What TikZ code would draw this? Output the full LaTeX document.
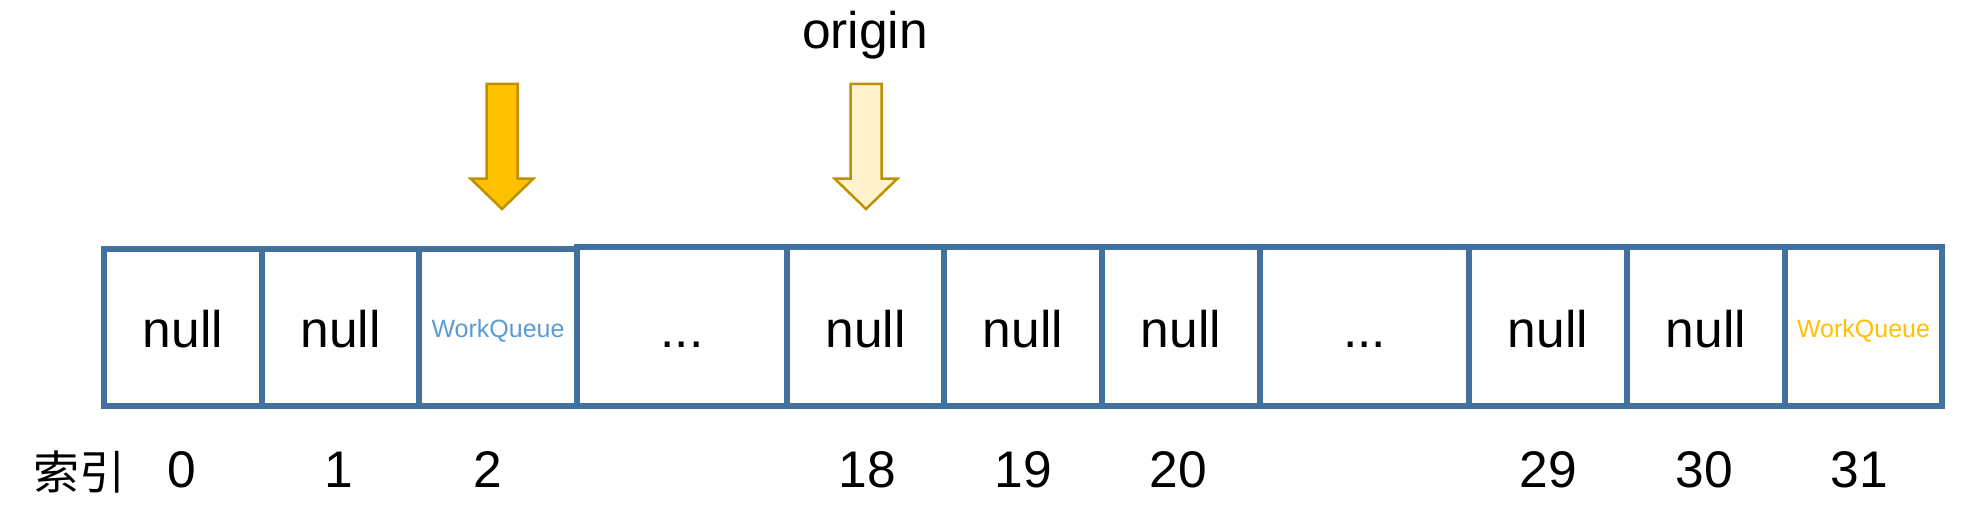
\documentclass[tikz,border=0pt]{standalone}
\usepackage{fontspec}
\setmainfont{Liberation Sans}
\newfontfamily\cjk{Noto Sans CJK SC}
\definecolor{cellblue}{HTML}{41719C}
\definecolor{wqblue}{HTML}{5B9BD5}
\definecolor{wqyellow}{HTML}{FFC000}
\definecolor{arrowedge}{HTML}{BF9000}
\definecolor{arrowfillA}{HTML}{FFC000}
\definecolor{arrowfillB}{HTML}{FFF2CC}
\begin{document}
\begin{tikzpicture}[x=1pt,y=-1pt,
  cell/.style={draw=cellblue, line width=6pt, rectangle, inner sep=0pt},
  lowcell/.style={cell, minimum height=157pt},
  highcell/.style={cell, minimum height=159pt},
  bigtxt/.style={font=\fontsize{51.5}{60}\selectfont, inner sep=0pt, anchor=base},
  smalltxt/.style={font=\fontsize{25}{30}\selectfont, inner sep=0pt, anchor=base},
  downarrow/.style={draw=arrowedge, line width=2.5pt, line join=miter}
]
\useasboundingbox (0,0) rectangle (1962,516);
% cells
\node[lowcell, minimum width=158pt] (c0) at (183,327.5) {};
\node[lowcell, minimum width=157pt] (c1) at (340.5,327.5) {};
\node[lowcell, minimum width=158pt] (c2) at (498,327.5) {};
\node[highcell, minimum width=210pt] (c3) at (682,326.5) {};
\node[highcell, minimum width=157pt] (c4) at (865.5,326.5) {};
\node[highcell, minimum width=158pt] (c5) at (1023,326.5) {};
\node[highcell, minimum width=158pt] (c6) at (1181,326.5) {};
\node[highcell, minimum width=209pt] (c7) at (1364.5,326.5) {};
\node[highcell, minimum width=158pt] (c8) at (1548,326.5) {};
\node[highcell, minimum width=158pt] (c9) at (1706,326.5) {};
\node[highcell, minimum width=157pt] (c10) at (1863.5,326.5) {};
% baselines
\coordinate (tb) at (0,347);
\coordinate (wb) at (0,337);
% cell texts
\node[bigtxt] (t0) at (c0 |- tb) {null};
\node[bigtxt] (t1) at (c1 |- tb) {null};
\node[smalltxt, text=wqblue] (t2) at (c2 |- wb) {WorkQueue};
\node[bigtxt] (t3) at (c3 |- tb) {...};
\node[bigtxt] (t4) at (c4 |- tb) {null};
\node[bigtxt] (t5) at (c5 |- tb) {null};
\node[bigtxt] (t6) at (c6 |- tb) {null};
\node[bigtxt] (t7) at (c7 |- tb) {...};
\node[bigtxt] (t8) at (c8 |- tb) {null};
\node[bigtxt] (t9) at (c9 |- tb) {null};
\node[smalltxt, text=wqyellow] (t10) at (c10 |- wb) {WorkQueue};
% index labels
\node[font=\cjk\fontsize{46}{50}\selectfont, inner sep=0pt, anchor=base] (idx) at (79,489) {索引};
\node[bigtxt] (l0) at (182,487) {0};
\node[bigtxt] (l1) at (339,487) {1};
\node[bigtxt] (l2) at (488,487) {2};
\node[bigtxt] (l18) at (867,487) {18};
\node[bigtxt] (l19) at (1023,487) {19};
\node[bigtxt] (l20) at (1178,487) {20};
\node[bigtxt] (l29) at (1548,487) {29};
\node[bigtxt] (l30) at (1704,487) {30};
\node[bigtxt] (l31) at (1859,487) {31};
% origin label
\node[bigtxt] (orig) at (865,49) {origin};
% arrows
\draw[downarrow, fill=arrowfillA, shift={(502,84)}]
  (-15.5,0) -- (15.5,0) -- (15.5,94.5) -- (31.5,94.5) -- (0,125) -- (-31.5,94.5) -- (-15.5,94.5) -- cycle;
\draw[downarrow, fill=arrowfillB, shift={(866,84)}]
  (-15.5,0) -- (15.5,0) -- (15.5,94.5) -- (31.5,94.5) -- (0,125) -- (-31.5,94.5) -- (-15.5,94.5) -- cycle;
\end{tikzpicture}
\end{document}
